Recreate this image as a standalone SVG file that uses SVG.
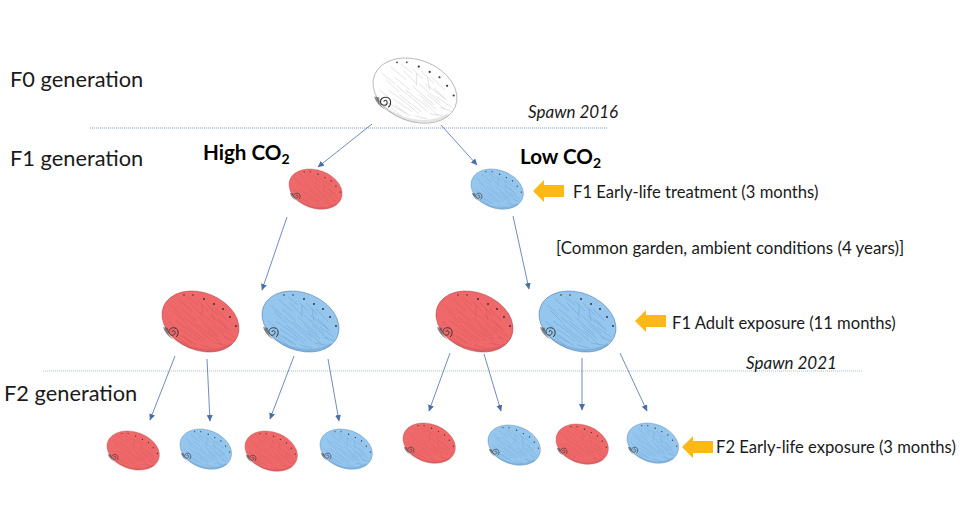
<svg xmlns="http://www.w3.org/2000/svg" width="960" height="530" viewBox="0 0 960 530">
<style>
text{font-family:Lato,"Liberation Sans",sans-serif;fill:#1a1a1a}
.gen{font-size:21.800px}
.lab{font-size:16.600px}
.it{font-size:17px;font-style:italic}
.co{font-size:20.600px;font-weight:700;fill:#000}
.sub{font-size:14px}
.red{fill:#f0696a;color:#a83c42}
.blue{fill:#94c6ee;color:#3f74a8}
.white{fill:#fff;color:#8a8a8a}
.con line{stroke:#4a6fa8;stroke-width:.8;fill:none;marker-end:url(#ah)}
.sep{stroke-width:1;stroke-dasharray:1 1;fill:none}
.ya{fill:#fcb814}
.hatch{fill:none;stroke:currentColor;stroke-width:.45;opacity:.5}
.edge{stroke:currentColor;stroke-width:.5}
.rim{fill:none;stroke:currentColor;stroke-width:2.500;opacity:.22}
.whorl{fill:none;stroke:#333;stroke-width:1}
.pore{fill:#333}
</style>
<defs>
<marker id="ah" markerWidth="7" markerHeight="7" refX="6" refY="3" orient="auto" markerUnits="userSpaceOnUse"><path d="M0,0 L6.500,3 L0,6 Z" fill="#4a6fa8"/></marker>
<g id="shell">
<ellipse class="edge" cx="38.500" cy="30.500" rx="39.900" ry="28.700" transform="rotate(22 38.500 30.500)"/>
<path class="rim" d="M3,38 C8,47 18,52 28,56 C42,61 58,60 69,53"/>
<path class="hatch" d="M14,42 L30,52 M18,38 L36,50 M24,34 L44,50 M30,30 L50,46 M36,26 L56,44 M42,24 L62,42 M48,24 L66,38 M20,18 L34,30 M28,12 L40,24 M36,10 L46,20 M12,20 L24,32 M6,30 L16,38 M52,52 L64,54 M38,54 L50,57 M56,28 L68,40 M16,46 L26,54 M40,14 L40,26 M50,18 L52,30 M20,44 L34,54 M28,40 L42,52 M34,36 L50,50 M42,34 L58,48 M50,34 L66,48 M58,36 L72,46 M8,14 L20,24 M16,8 L30,20 M26,6 L36,14 M44,12 L56,24 M54,18 L66,30 M62,46 L72,50 M46,40 L60,54 M14,30 L28,40 M22,26 L34,36"/>
<path d="M1,36 C3,42 7,46 11,48 C7,45 5,41 6,37 Z" fill="#333" opacity=".55"/>
<path class="whorl" d="M10,41 C10,39 13,39 13,41.500 C13,45 8,45 7,42 C6,38 10,36 13,37 C17,38 17,44 14,46"/>
<g class="pore"><circle cx="22" cy="4" r=".8"/><circle cx="31" cy="4" r=".8"/><circle cx="42" cy="8" r="1"/><circle cx="52" cy="13" r="1"/><circle cx="61" cy="18" r="1"/><circle cx="68" cy="26" r="1"/><circle cx="74" cy="35" r="1"/></g>
</g>
<path id="ya" d="M0,0 L11,-11 L11,-6 L31,-6 L31,6 L11,6 L11,11 Z"/>
</defs>

<line class="sep" x1="90" y1="128" x2="608" y2="128" stroke="#7f9fc4"/>
<line class="sep" x1="43" y1="371" x2="862" y2="371" stroke="#a9bfd9"/>

<g id="connectors" class="con">
<line x1="372" y1="124" x2="318" y2="167"/>
<line x1="441" y1="125" x2="477" y2="165"/>
<line x1="287" y1="217" x2="262" y2="290"/>
<line x1="513" y1="216" x2="529" y2="289"/>
<line x1="175" y1="356" x2="150" y2="420"/>
<line x1="207" y1="359" x2="210" y2="421"/>
<line x1="294" y1="356" x2="270" y2="419"/>
<line x1="328" y1="359" x2="339" y2="421"/>
<line x1="450" y1="353" x2="429" y2="411"/>
<line x1="484" y1="354" x2="501" y2="411"/>
<line x1="582" y1="358" x2="582" y2="410"/>
<line x1="620" y1="353" x2="647" y2="411"/>
</g>

<g id="f0-shell" class="white"><use href="#shell" transform="translate(373,58) scale(1.09,1.07)"/></g>
<g id="f1-red" class="red"><use href="#shell" transform="translate(289,169) scale(.69,.66)"/></g>
<g id="f1-blue" class="blue"><use href="#shell" transform="translate(471,169) scale(.68,.66)"/></g>
<g id="f1a-red-1" class="red"><use href="#shell" transform="translate(162,291)"/></g>
<g id="f1a-blue-1" class="blue"><use href="#shell" transform="translate(262,291)"/></g>
<g id="f1a-red-2" class="red"><use href="#shell" transform="translate(436,291)"/></g>
<g id="f1a-blue-2" class="blue"><use href="#shell" transform="translate(539,291)"/></g>
<g id="f2-red-1" class="red"><use href="#shell" transform="translate(107,431) scale(.68,.64)"/></g>
<g id="f2-blue-1" class="blue"><use href="#shell" transform="translate(180,429) scale(.67,.66)"/></g>
<g id="f2-red-2" class="red"><use href="#shell" transform="translate(245,431) scale(.68,.66)"/></g>
<g id="f2-blue-2" class="blue"><use href="#shell" transform="translate(320,429) scale(.68,.66)"/></g>
<g id="f2-red-3" class="red"><use href="#shell" transform="translate(403,423) scale(.68,.66)"/></g>
<g id="f2-blue-3" class="blue"><use href="#shell" transform="translate(488,425) scale(.68,.66)"/></g>
<g id="f2-red-4" class="red"><use href="#shell" transform="translate(556,424) scale(.68,.66)"/></g>
<g id="f2-blue-4" class="blue"><use href="#shell" transform="translate(627,423) scale(.67,.66)"/></g>

<g id="arrow-f1-early" class="ya"><use href="#ya" x="533" y="191"/></g>
<g id="arrow-f1-adult" class="ya"><use href="#ya" x="635" y="321"/></g>
<g id="arrow-f2-early" class="ya"><use href="#ya" x="682" y="447"/></g>

<g id="labels">
<text class="gen" x="10" y="87">F0 generation</text>
<text class="gen" x="10" y="166">F1 generation</text>
<text class="gen" x="4" y="401">F2 generation</text>
<text class="co" x="203" y="160">High CO<tspan class="sub" dy="4">2</tspan></text>
<text class="co" x="520" y="164">Low CO<tspan class="sub" dy="4">2</tspan></text>
<text class="it" x="528" y="118">Spawn 2016</text>
<text class="it" x="746" y="369">Spawn 2021</text>
<text class="lab" x="573" y="198">F1 Early-life treatment (3 months)</text>
<text class="lab" x="556" y="254" style="font-size:16.900px">[Common garden, ambient conditions (4 years)]</text>
<text class="lab" x="672" y="329">F1 Adult exposure (11 months)</text>
<text class="lab" x="716" y="453">F2 Early-life exposure (3 months)</text>
</g>
</svg>
